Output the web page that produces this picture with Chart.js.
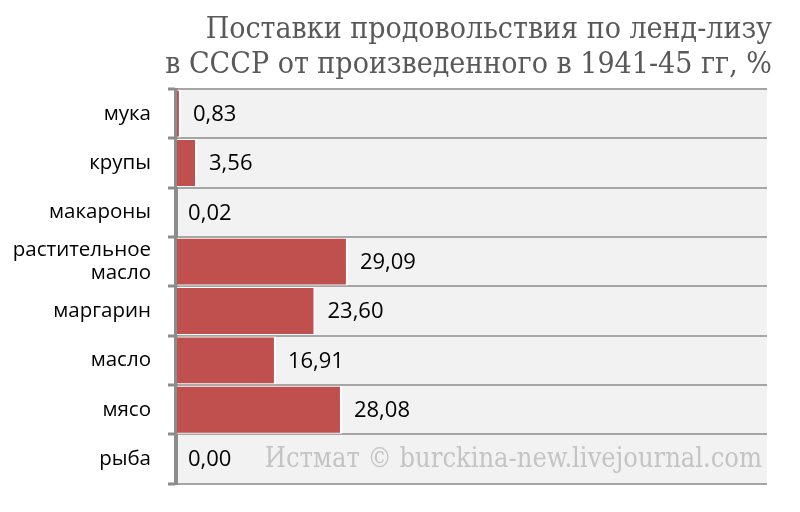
<!DOCTYPE html>
<html>
<head>
<meta charset="utf-8">
<script src="https://cdn.jsdelivr.net/npm/chart.js@4"></script>
<style>
  html, body { margin: 0; padding: 0; background: #fff; }
  #wrap { width: 800px; height: 512px; }
</style>
</head>
<body>
<div id="wrap"><canvas id="chart" width="800" height="512"></canvas></div>
<script>
// данные
const categories = ['мука', 'крупы', 'макароны', ['растительное', 'масло'], 'маргарин', 'масло', 'мясо', 'рыба'];
const shares = [0.83, 3.56, 0.02, 29.09, 23.60, 16.91, 28.08, 0.00];
const titleLines = ['Поставки продовольствия по ленд-лизу', 'в СССР от произведенного в 1941-45 гг, %'];
const watermark = 'Истмат © burckina-new.livejournal.com';

const barColor = '#c0504d';
const serif = '"DejaVu Serif Condensed", "DejaVu Serif", serif';

// фон области графика, заголовок, водяной знак
const bgPlugin = {
    id: 'bg',
    beforeDraw(chart) {
        const { ctx, chartArea: a } = chart;
        ctx.save();
        ctx.fillStyle = '#f2f2f2';
        ctx.fillRect(a.left, a.top, a.right - a.left, a.bottom - a.top);
        ctx.restore();
    },
    afterDatasetsDraw(chart) {
        // ось поверх столбиков
        const { ctx, chartArea: a } = chart;
        ctx.save();
        ctx.strokeStyle = '#8c8c8c';
        ctx.lineWidth = 3;
        ctx.beginPath();
        ctx.moveTo(a.left - 0.5, a.top - 1);
        ctx.lineTo(a.left - 0.5, a.bottom + 1);
        ctx.stroke();
        ctx.restore();
    },
    afterDraw(chart) {
        const { ctx, chartArea: a } = chart;
        ctx.save();
        ctx.fillStyle = '#595959';
        ctx.font = '30px ' + serif;
        ctx.textAlign = 'right';
        ctx.textBaseline = 'alphabetic';
        ctx.fillText(titleLines[0], 772, 38);
        ctx.fillText(titleLines[1], 772, 73);
        ctx.fillStyle = '#c4c4c4';
        ctx.font = '27px ' + serif;
        ctx.fillText(watermark, a.right - 5, a.bottom - 17);
        ctx.restore();
    }
};

// подписи значений
const labelPlugin = {
    id: 'vals',
    afterDatasetsDraw(chart) {
        const { ctx } = chart;
        const meta = chart.getDatasetMeta(0);
        ctx.save();
        ctx.fillStyle = '#000';
        ctx.font = '22px "Open Sans"';
        ctx.textAlign = 'left';
        ctx.textBaseline = 'middle';
        meta.data.forEach((bar, i) => {
            const txt = shares[i].toFixed(2).replace('.', ',');
            ctx.fillText(txt, bar.x + 12, bar.y + 1);
        });
        ctx.restore();
    }
};

new Chart(document.getElementById('chart'), {
    type: 'bar',
    data: {
        labels: categories,
        datasets: [{
            data: shares,
            backgroundColor: barColor,
            borderColor: '#ffffff',
            borderWidth: { right: 2, top: 1, bottom: 1 },
            borderSkipped: 'left',
            barPercentage: 1,
            categoryPercentage: 0.97
        }]
    },
    plugins: [bgPlugin, labelPlugin],
    options: {
        indexAxis: 'y',
        responsive: false,
        animation: false,
        layout: { padding: { top: 89, right: 33, bottom: 27, left: 0 } },
        plugins: {
            legend: { display: false },
            tooltip: { enabled: false }
        },
        scales: {
            x: {
                display: false,
                min: 0,
                max: 100
            },
            y: {
                afterFit(scale) { scale.width = 176; },
                grid: {
                    offset: true,
                    color: '#a6a6a6',
                    lineWidth: 2,
                    tickColor: '#8c8c8c',
                    tickWidth: 3,
                    tickLength: 8
                },
                border: { color: '#8c8c8c', width: 3 },
                ticks: {
                    color: '#000',
                    padding: 17,
                    font: { family: 'Open Sans', size: 20.5, lineHeight: 1.1 }
                }
            }
        }
    }
});
</script>
</body>
</html>
